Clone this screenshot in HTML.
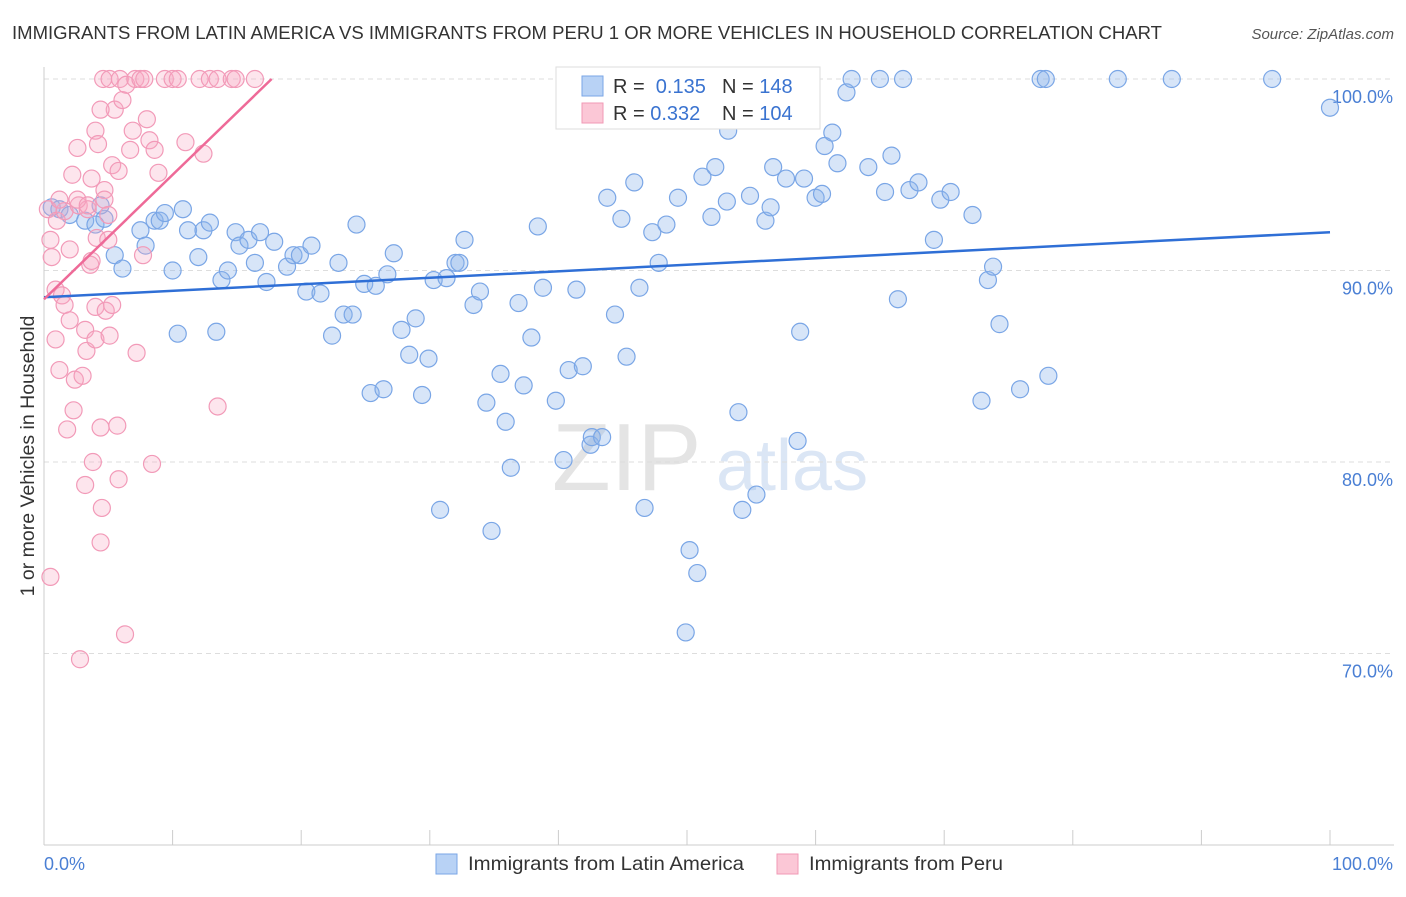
<!DOCTYPE html>
<html><head><meta charset="utf-8"><style>
body{margin:0;background:#fff;font-family:"Liberation Sans",sans-serif;}
svg text{font-family:"Liberation Sans",sans-serif;}
</style></head><body>
<svg id="chart" width="1406" height="892" xmlns="http://www.w3.org/2000/svg">
<text x="12" y="39" font-size="18" fill="#333" textLength="1150" lengthAdjust="spacingAndGlyphs">IMMIGRANTS FROM LATIN AMERICA VS IMMIGRANTS FROM PERU 1 OR MORE VEHICLES IN HOUSEHOLD CORRELATION CHART</text>
<text x="1394" y="39" font-size="15" fill="#555" font-style="italic" text-anchor="end">Source: ZipAtlas.com</text>
<text x="552" y="490" font-size="96" fill="#e4e4e4" font-family="Liberation Serif">ZIP</text>
<text x="716" y="490" font-size="72" fill="#dbe6f5">atlas</text>
<g id="grid"></g>
<g id="axes"></g>
<g id="pts"></g>
<g id="trends"></g>
<text transform="translate(34,456) rotate(-90)" font-size="19.5" fill="#333" text-anchor="middle">1 or more Vehicles in Household</text>
<text x="44" y="870" font-size="18" fill="#4a7fd4">0.0%</text>
<text x="1393" y="870" font-size="18" fill="#4a7fd4" text-anchor="end">100.0%</text>
<g>
<rect x="556" y="67" width="264" height="62" fill="#fff" stroke="#ddd"/>
<rect x="582" y="76" width="21" height="20" fill="#b8d2f5" stroke="#7aa6e6"/>
<rect x="582" y="103" width="21" height="20" fill="#fbc7d6" stroke="#f09ab5"/>
<text x="613" y="93" font-size="20" fill="#333">R = <tspan fill="#3a73d0">&#160;0.135</tspan></text>
<text x="722" y="93" font-size="20" fill="#333">N = <tspan fill="#3a73d0">148</tspan></text>
<text x="613" y="120" font-size="20" fill="#333">R = <tspan fill="#3a73d0">0.332</tspan></text>
<text x="722" y="120" font-size="20" fill="#333">N = <tspan fill="#3a73d0">104</tspan></text>
</g>
<g>
<rect x="436" y="854" width="21" height="20" fill="#b8d2f5" stroke="#7aa6e6"/>
<text x="468" y="870" font-size="19.5" fill="#333" textLength="276" lengthAdjust="spacingAndGlyphs">Immigrants from Latin America</text>
<rect x="777" y="854" width="21" height="20" fill="#fbc7d6" stroke="#f09ab5"/>
<text x="809" y="870" font-size="19.5" fill="#333" textLength="194" lengthAdjust="spacingAndGlyphs">Immigrants from Peru</text>
</g>
</svg>
<script>
const yTicks=[100,90,80,70];
const yTickLabels=["100.0%","90.0%","80.0%","70.0%"];
const blueX=[0.6,1.2,2.0,3.2,4.0,4.7,4.4,5.5,6.1,7.5,7.9,8.6,9.0,9.4,10.0,10.4,10.8,11.2,12.0,12.4,12.9,13.4,13.8,14.3,14.9,15.2,15.9,16.4,16.8,17.3,17.9,18.9,19.4,19.9,20.4,20.8,21.5,22.4,22.9,23.3,24.0,24.3,24.9,25.4,25.8,26.4,26.7,27.2,27.8,28.4,28.9,29.4,29.9,30.3,30.8,31.3,32.0,32.3,32.7,33.4,33.9,34.4,34.8,35.5,35.9,36.3,36.9,37.3,37.9,38.4,38.8,39.8,40.4,40.8,41.4,41.9,42.5,42.6,43.4,43.8,44.4,44.9,45.3,45.9,46.3,46.7,47.3,47.8,48.4,49.3,49.9,50.2,50.8,51.2,51.9,52.2,53.1,53.2,54.0,54.3,54.9,55.4,56.1,56.5,56.7,57.7,58.6,58.8,59.1,60.0,60.5,60.7,61.3,61.7,62.4,62.8,64.1,65.0,65.4,65.9,66.4,66.8,67.3,68.0,69.2,69.7,70.5,72.2,72.9,73.4,73.8,74.3,75.9,77.5,77.9,78.1,83.5,87.7,95.5,100];
const blueY=[93.3,93.2,92.9,92.6,92.4,92.7,93.4,90.8,90.1,92.1,91.3,92.6,92.6,93.0,90.0,86.7,93.2,92.1,90.7,92.1,92.5,86.8,89.5,90.0,92.0,91.3,91.6,90.4,92.0,89.4,91.5,90.2,90.8,90.8,88.9,91.3,88.8,86.6,90.4,87.7,87.7,92.4,89.3,83.6,89.2,83.8,89.8,90.9,86.9,85.6,87.5,83.5,85.4,89.5,77.5,89.6,90.4,90.4,91.6,88.2,88.9,83.1,76.4,84.6,82.1,79.7,88.3,84.0,86.5,92.3,89.1,83.2,80.1,84.8,89.0,85.0,80.9,81.3,81.3,93.8,87.7,92.7,85.5,94.6,89.1,77.6,92.0,90.4,92.4,93.8,71.1,75.4,74.2,94.9,92.8,95.4,93.6,97.3,82.6,77.5,93.9,78.3,92.6,93.3,95.4,94.8,81.1,86.8,94.8,93.8,94.0,96.5,97.2,95.6,99.3,100,95.4,100,94.1,96.0,88.5,100,94.2,94.6,91.6,93.7,94.1,92.9,83.2,89.5,90.2,87.2,83.8,100,100,84.5,100,100,100,98.5];
const pinkX=[0.5,0.3,0.5,0.6,0.9,0.9,1.0,1.2,1.4,1.6,1.8,2.0,2.2,2.4,2.6,2.7,2.8,3.0,3.2,3.3,3.4,3.6,3.7,3.8,4.0,4.0,4.1,4.2,4.4,4.4,4.5,4.6,4.7,4.8,5.0,5.1,5.3,5.5,5.7,5.8,5.8,5.9,6.1,6.3,6.4,6.7,6.9,7.1,7.2,7.5,7.7,7.8,8.0,8.2,8.4,8.6,8.9,9.4,10.0,10.4,11.0,12.1,12.4,12.9,13.5,13.5,14.6,14.9,16.4,1.2,1.6,2.0,2.3,2.6,3.2,3.4,3.7,4.0,4.4,4.7,5.0,5.1,5.3];
const pinkY=[74.0,93.2,91.6,90.7,86.4,89.0,92.6,84.8,88.7,93.1,81.7,91.1,95.0,84.3,96.4,93.4,69.7,84.5,78.8,85.8,93.2,90.3,94.8,80.0,88.1,97.3,91.7,96.6,81.8,75.8,77.6,100,94.2,87.9,91.6,100,95.5,98.4,81.9,95.2,79.1,100,98.9,71.0,99.7,96.3,97.3,100,85.7,100,90.8,100,97.9,96.8,79.9,96.3,95.1,100,100,100,96.7,100,96.1,100,82.9,100,100,100,100,93.7,88.2,87.4,82.7,93.7,86.9,93.4,90.5,86.4,98.4,93.7,92.9,86.6,88.2];
const blueTrend=[88.6,92.0];
const pinkTrendEnd=[17.7,100];
const pinkTrendStartY=88.5;
const NS="http://www.w3.org/2000/svg";
const sx=v=>44+v*12.86;
const sy=v=>79+(100-v)*19.15;
function mk(tag,attrs,parent){const e=document.createElementNS(NS,tag);for(const k in attrs)e.setAttribute(k,attrs[k]);parent.appendChild(e);return e;}
const grid=document.getElementById('grid'),axes=document.getElementById('axes'),pts=document.getElementById('pts'),tr=document.getElementById('trends');
yTicks.forEach((t,i)=>{
 const l=mk('line',{x1:44,x2:1394,y1:sy(t),y2:sy(t),stroke:'#ddd','stroke-dasharray':'5,4'},grid);
 
 
 const tx=mk('text',{x:1393,y:sy(t)+24,'font-size':18,fill:'#4a7fd4','text-anchor':'end'},grid);
 tx.textContent=yTickLabels[i];
 
 
});
const ya=mk('line',{x1:44,x2:44,y1:67,y2:845,stroke:'#ccc'},axes);


const xa=mk('line',{x1:44,x2:1394,y1:845,y2:845,stroke:'#ccc'},axes);


for(let i=0;i<=10;i++){const t=mk('line',{x1:sx(i*10),x2:sx(i*10),y1:830,y2:845,stroke:'#ccc'},axes);
 
 }
blueX.forEach((x,i)=>{const c=mk('circle',{cx:sx(x),cy:sy(blueY[i]),r:8.5,fill:'rgba(140,180,235,0.35)',stroke:'#7aa6e6','stroke-width':1.2},pts);
 
 });
pinkX.forEach((x,i)=>{const c=mk('circle',{cx:sx(x),cy:sy(pinkY[i]),r:8.5,fill:'rgba(248,170,196,0.3)',stroke:'#f29ab8','stroke-width':1.2},pts);
 
 });
const bl=mk('line',{x1:sx(0),y1:sy(blueTrend[0]),x2:sx(100),y2:sy(blueTrend[1]),stroke:'#2f6fd6','stroke-width':2.5},tr);


const pl=mk('line',{x1:sx(0),y1:sy(pinkTrendStartY),x2:sx(pinkTrendEnd[0]),y2:sy(pinkTrendEnd[1]),stroke:'#ee6a98','stroke-width':2.5},tr);


</script>
</body></html>
